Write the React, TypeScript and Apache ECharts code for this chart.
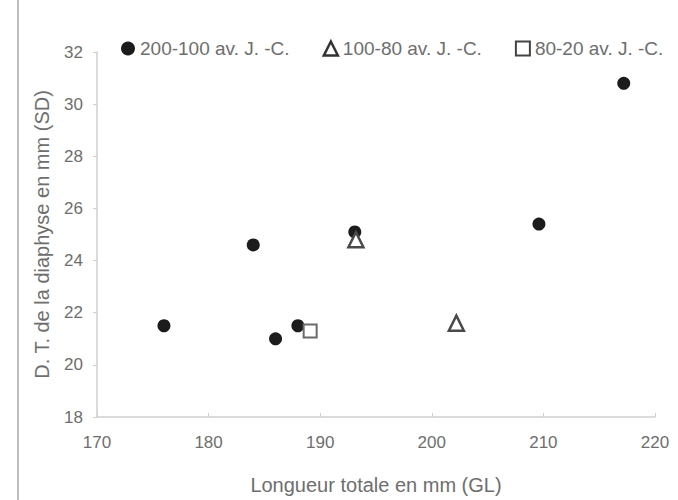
import React, { useEffect, useRef } from "react";
import * as echarts from "echarts";

const seriesNames = ["200-100 av. J. -C.", "100-80 av. J. -C.", "80-20 av. J. -C."];
const circlePoints: [number, number][] = [
  [176, 21.5],
  [184, 24.6],
  [186, 21.0],
  [188, 21.5],
  [193.1, 25.1],
  [209.6, 25.4],
  [217.2, 30.8],
];
const trianglePoints: [number, number][] = [
  [193.2, 24.8],
  [202.2, 21.6],
];
const squarePoints: [number, number][] = [[189.1, 21.3]];

const xTitle = "Longueur totale en mm (GL)";
const yTitle = "D. T. de la diaphyse en mm (SD)";

const FONT = "'Liberation Sans', Arial, sans-serif";
const TEXT = "#6e6e6e";

export default function App() {
  const ref = useRef<HTMLDivElement>(null);
  useEffect(() => {
    document.body.style.margin = "0";
    if (!ref.current) return;
    const chart = echarts.init(ref.current, null, { renderer: "svg" });
    chart.setOption({
      animation: false,
      backgroundColor: "#ffffff",
      textStyle: { fontFamily: FONT, color: TEXT },
      grid: { left: 97, right: 23, top: 52, bottom: 82, containLabel: false },
      legend: {
        top: 34,
        left: 116,
        itemGap: 33,
        itemWidth: 14,
        itemHeight: 14,
        textStyle: { fontFamily: FONT, fontSize: 19, color: TEXT },
        data: [
          { name: seriesNames[0], icon: "circle", itemStyle: { color: "#1c1c1c" } },
          { name: seriesNames[1], icon: "triangle", itemStyle: { color: "#ffffff", borderColor: "#333", borderWidth: 2.5 } },
          { name: seriesNames[2], icon: "rect", itemStyle: { color: "#ffffff", borderColor: "#444", borderWidth: 2 } },
        ],
      },
      graphic: [
        {
          type: "line",
          shape: { x1: 18, y1: 0, x2: 18, y2: 500 },
          style: { stroke: "#a8a8a8", lineWidth: 1.5 },
        },
      ],
      xAxis: {
        type: "value",
        min: 170,
        max: 220,
        interval: 10,
        name: xTitle,
        nameLocation: "middle",
        nameGap: 58,
        nameTextStyle: { fontFamily: FONT, fontSize: 20, color: TEXT },
        axisLine: { show: true, lineStyle: { color: "#cfcfcf", width: 1.5 } },
        axisTick: { show: true, inside: true, length: 4, lineStyle: { color: "#cfcfcf" } },
        axisLabel: { fontFamily: FONT, fontSize: 17, color: TEXT, margin: 17 },
        splitLine: { show: false },
      },
      yAxis: {
        type: "value",
        min: 18,
        max: 32,
        interval: 2,
        name: yTitle,
        nameLocation: "middle",
        nameGap: 45,
        nameRotate: 90,
        nameTextStyle: { fontFamily: FONT, fontSize: 20, color: TEXT },
        axisLine: { show: true, lineStyle: { color: "#cfcfcf", width: 1.5 } },
        axisTick: { show: true, length: 4, lineStyle: { color: "#cfcfcf" } },
        axisLabel: { fontFamily: FONT, fontSize: 17, color: TEXT, margin: 14 },
        splitLine: { show: false },
      },
      series: [
        {
          name: seriesNames[0],
          type: "scatter",
          symbol: "circle",
          symbolSize: 13,
          itemStyle: { color: "#1c1c1c", opacity: 1 },
          data: circlePoints,
          z: 2,
        },
        {
          name: seriesNames[1],
          type: "scatter",
          symbol: "triangle",
          symbolSize: 15,
          itemStyle: { color: "#ffffff", borderColor: "#4a4a4a", borderWidth: 2.5, opacity: 1 },
          data: trianglePoints,
          z: 3,
        },
        {
          name: seriesNames[2],
          type: "scatter",
          symbol: "rect",
          symbolSize: 13,
          itemStyle: { color: "#ffffff", borderColor: "#6a6a6a", borderWidth: 2, opacity: 1 },
          data: squarePoints,
          z: 3,
        },
      ],
    });
    return () => chart.dispose();
  }, []);
  return <div ref={ref} style={{ width: 678, height: 500 }} />;
}
